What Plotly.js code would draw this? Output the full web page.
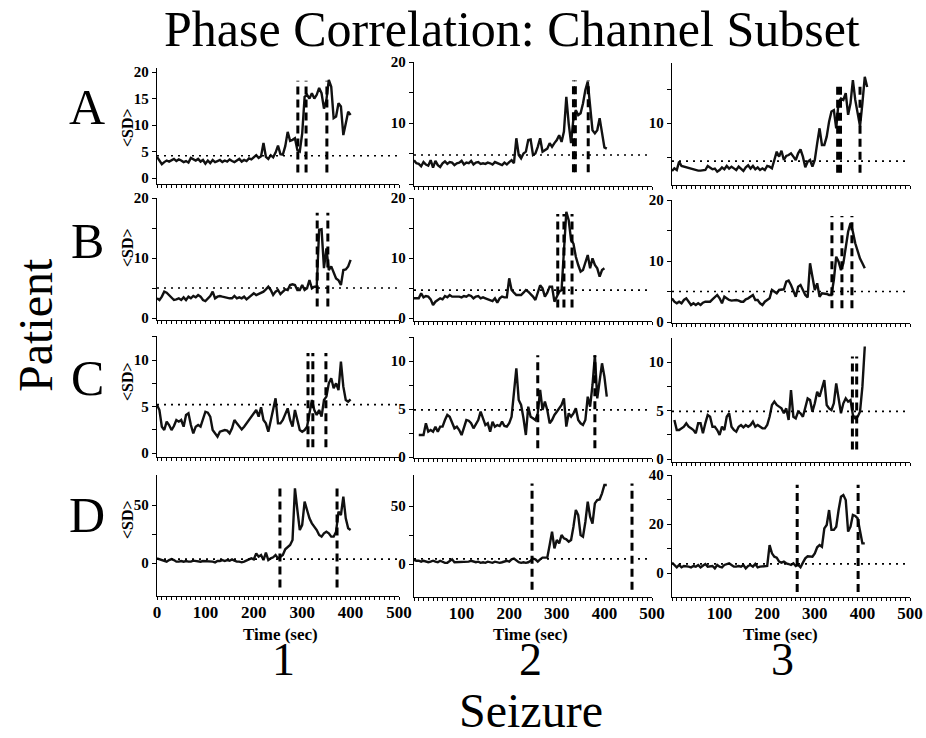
<!DOCTYPE html>
<html><head><meta charset="utf-8">
<script src="https://cdn.plot.ly/plotly-3.0.1.min.js"></script>
<style>html,body{margin:0;padding:0;background:#fff}#chart{width:926px;height:738px}</style>
</head><body><div id="chart"></div>
<script>
// ---------------- DATA ----------------
const TIME = [0,5,10,15,20,25,30,35,40,45,50,55,60,65,70,75,80,85,90,95,100,105,110,115,120,125,130,135,140,145,150,155,160,165,170,175,180,185,190,195,200,205,210,215,220,225,230,235,240,245,250,255,260,265,270,275,280,285,290,295,300,305,310,315,320,325,330,335,340,345,350,355,360,365,370,375,380,385,390,395,400,405,410];
const patients = ['A','B','C','D'];
const seizures = ['1','2','3'];
const xTickVals = [0,100,200,300,400,500];

const A1 = [4.0,3.2,2.6,3.0,3.3,3.1,3.4,3.6,3.2,3.5, 3.3,3.0,3.2,2.9,3.8,3.5,3.3,3.6,3.1,3.4, 2.7,3.3,2.8,3.4,3.0,3.2,3.4,3.0,3.3,3.1, 3.5,3.2,3.0,3.3,3.6,3.1,3.4,3.2,3.7,3.5, 4.0,4.3,3.8,4.1,6.6,4.0,3.6,4.3,3.9,4.8, 6.1,4.5,4.4,6.0,8.7,7.0,7.2,7.5,5.3,5.0, 8.4,15.3,15.7,15.0,16.0,15.0,15.7,17.0,16.0,13.1, 14.7,18.5,17.2,11.3,11.6,14.1,13.5,8.1,10.3,12.5, 11.9];
const A2 = [3.9,3.4,3.3,2.9,3.6,3.2,3.0,3.9,2.7,3.8, 3.1,2.8,3.4,3.7,3.3,3.6,3.5,3.1,3.4,3.5, 3.8,3.2,3.5,3.4,3.8,3.2,3.5,3.6,3.3,3.4, 3.3,3.5,3.4,3.2,3.6,3.4,3.3,3.1,3.5,3.2, 3.6, 3.9,3.4,7.5,4.75,4.2,5.0,5.3,7.2,7.3,4.75, 5.0,6.1,7.5,5.3,5.5,5.8,6.7,6.1,6.7,7.2, 8.0,6.9,8.6,14.3,9.9,6.7,10.8,12.1,11.3,11.6, 13.2,15.4,16.8,13.2,8.8,8.3,8.8,10.8,8.6,6.0, 5.8];
const A3 = [2.94,3.33,3.09,4.31,3.68,3.58,3.48,3.33,3.33,3.24, 3.09,2.99,2.99,2.99,3.09,3.68,3.48,3.19,3.29,2.84, 3.09,3.48,3.19,3.68,3.29,3.58,3.33,3.09,3.58,3.19, 2.94,3.48,3.77,3.29,3.68,3.19,3.48,3.09,3.33,3.09, 3.68,3.58,3.33,4.56,5.78,5.05,5.93,4.56,5.15,5.29, 5.54,5.05,4.56,5.54,6.13,5.05,3.48,4.31,4.56,3.58, 4.56,7.0,9.22,6.76,6.76,7.99,10.2,11.7,11.9,9.22, 13.1,13.6,13.4,14.4,11.2,12.9,16.3,13.4,11.4,9.5, 12.9,16.8,15.3];
const B1 = [3.28,3.0,3.56,4.39,4.22,3.83,3.44,3.0,3.11,3.28, 3.0,3.44,3.0,3.56,3.28,3.67,3.44,3.83,3.56,3.0, 2.83,3.28,3.67,4.39,3.28,3.56,3.67,3.56,3.44,3.44, 3.28,3.28,3.67,3.28,3.44,3.28,3.56,3.11,3.44,3.67, 4.11,3.83,4.0,4.11,4.39,4.78,5.22,4.67,3.83,4.39, 4.67,4.0,4.39,4.78,4.67,5.5,5.61,5.5,4.67,4.67, 5.5,4.67,4.94,6.33,4.94,5.22,5.22,14.7,14.8,8.3, 11.6,8.0,8.6,7.7,6.6,6.3,5.5,8.0,8.1,8.6, 9.7];
const B2 = [3.28,3.28,3.28,4.11,3.44,3.67,3.56,3.11,2.17,2.72, 3.0,3.28,3.11,3.67,3.44,3.83,3.56,3.56,3.67,3.56, 3.44,3.67,3.56,3.83,3.67,3.28,3.56,3.67,3.28,3.44, 3.28,3.11,3.0,2.83,3.28,2.56,3.28,3.56,3.44,3.44, 6.61,4.67,4.22,3.83,3.83,3.83,4.22,4.67,4.39,4.0, 3.56,3.0,4.39,5.44,4.94,3.56,4.22,5.22,5.22,2.72, 3.56,4.39,4.67,11.3,17.7,16.3,13.0,12.4,10.2,8.83, 7.72,8.0,9.11,10.5,8.28,9.94,8.83,8.28,6.89,8.0, 8.28];
const B3 = [3.88,3.33,3.06,3.33,3.06,3.61,3.88,3.33,2.79,3.06, 2.79,3.06,2.79,3.17,3.33,3.33,3.33,3.72,4.05,4.43, 3.88,3.06,4.15,3.88,3.61,3.5,3.61,3.61,3.5,3.33, 3.33,3.72,3.88,4.15,4.43,3.61,3.61,3.06,2.79,3.33, 3.61,3.88,5.25,4.97,4.7,5.25,5.36,5.36,6.61,6.78, 6.07,4.97,4.15,5.8,6.07,5.25,4.43,4.05,9.62,7.43, 5.25,6.34,4.15,4.7,4.7,4.59,4.43,4.43,6.89,10.7, 9.9,8.5,9.62,12.1,14.8,16.2,14.8,12.9,11.5,10.4, 9.62,8.8];
const C1 = [5.16,4.62,2.83,2.47,3.37,3.01,2.47,2.90,3.55,3.37, 3.55,2.83,4.09,4.27,3.01,2.11,2.83,3.01,2.83,3.55, 4.44,4.34,3.91,2.47,2.11,1.76,2.29,2.4,2.47,2.4, 2.11,2.65,3.55,3.19,2.83,2.54,2.83,3.19,3.55,3.91, 4.27,4.62,3.91,4.91,3.55,3.19,2.29,3.55,4.8,5.88, 3.19,3.19,3.55,4.27,4.8,3.55,2.83,4.62,3.55,2.47, 2.29,2.47,2.83,4.27,5.7,4.62,4.09,4.62,3.91,5.7, 6.06,7.49,8.03,6.96,7.49,6.77,9.82,7.13,5.7,5.52, 5.77];
const C2 = [2.29,2.29,2.29,3.51,2.64,2.81,2.64,3.16,2.64,3.16, 3.16,3.85,4.38,4.20,3.51,2.99,3.16,2.81,2.29,3.16, 3.85,3.78,3.51,2.99,3.51,3.85,4.72,4.03,3.33,3.51, 2.64,3.68,3.16,3.33,3.23,3.68,3.23,3.16,3.51,4.20, 6.63,9.24,5.94,5.42,4.03,2.29,5.24,4.20,4.03,3.85, 4.55,6.98,4.9,5.76,4.9,3.51,3.85,4.38,4.72,5.07, 5.42,6.11,3.16,4.55,4.20,4.55,5.07,3.85,3.51,3.33, 3.85,6.28,5.24,7.5,10.6,6.11,8.2,9.76,8.37,6.28];
const C3 = [4.02,2.99,2.99,3.16,3.33,3.68,3.33,3.16,2.99,2.65, 3.68,3.68,2.65,3.68,4.54,4.36,3.33,3.33,2.99,2.47, 3.33,2.99,4.36,4.71,3.33,2.99,2.82,3.33,3.5,3.26, 3.5,3.33,3.5,3.85,3.33,3.5,3.33,3.16,3.16,3.5, 4.36,5.57,5.91,5.57,5.4,5.22,4.71,5.22,4.02,7.11, 4.36,4.19,4.88,4.71,4.36,5.22,6.25,6.08,4.88,5.74, 6.94,6.42,7.28,8.14,5.57,5.22,5.05,5.74,7.8,6.08, 4.71,5.74,6.25,5.91,6.08,4.54,4.19,4.36,4.88,7.46, 11.6];
const D1 = [4.0,3.4,2.5,2.0,1.15,2.5,3.4,2.5,1.15,1.15, 1.72,1.15,1.72,1.15,1.15,2.0,1.72,1.72,1.15,1.72, 1.72,1.15,1.72,1.15,0.57,1.72,1.72,2.5,1.72,2.5, 2.0,3.16,2.0,1.15,1.15,0.57,1.15,2.5,3.16,4.0, 3.16,8.33,5.46,6.9,2.5,8.9,2.5,4.0,4.89,6.9, 4.0,5.46,6.9,11.8,13.5,15.5,19.8,64.4,45.7,28.4, 32.8,52.9,45.7,38.5,34.2,31.3,28.4,24.1,22.7,25.6, 27.0,25.6,22.7,22.7,27.0,44.3,41.4,57.2,38.5,29.9, 28.4];
const D2 = [3.5,2.8,2.8,2.0,2.8,2.0,1.5,2.0,2.8,2.0, 1.5,2.8,2.0,1.0,1.0,2.8,4.0,1.5,1.5,2.0, 1.5,2.0,1.5,2.0,2.8,2.0,1.5,2.0,1.0,1.5, 1.0,2.0,1.5,1.0,2.0,1.5,1.0,1.5,2.0,2.8, 2.0,4.0,4.6,2.8,1.5,1.0,1.5,1.0,1.5,2.8, 4.6,4.0,2.0,4.0,5.5,5.5,5.5,16.4,27.9,13.5, 20.7,17.8,25.0,22.1,21.3,19.3,20.7,32.2,46.6,42.2, 25.0,23.6,36.2,53.7,40.8,34.8,52.3,55.2,55.7,60.9, 68.1,68.1];
const D3 = [4.22,3.27,2.31,3.27,2.31,2.86,2.86,2.59,2.31,2.86, 2.59,3.27,2.31,2.86,3.67,2.59,2.86,2.86,1.90,3.27, 2.59,2.31,3.27,3.67,3.95,3.27,2.59,2.59,2.86,2.59, 3.27,1.90,2.86,3.27,2.59,3.67,2.31,2.59,2.59,2.59, 2.86,11.4,8.03,6.67,6.26,4.63,4.22,4.63,3.95,3.67, 3.27,3.95,2.86,3.27,2.31,4.22,5.99,6.8,6.8,6.67, 8.03,10.5,11.4,10.7,18.2,19.6,25.7,17.6,17.6,18.9, 25.7,31.1,31.8,29.8,16.9,18.9,23.7,23.3,22.3,16.9, 12.1,12.1];

const series = [[A1,A2,A3],[B1,B2,B3],[C1,C2,C3],[D1,D2,D3]];
const seriesStart = [[0,0,0],[0,0,0],[0,10,5],[0,0,0]];
const threshold = [[4.2,4.75,4.4],[5.0,4.65,5.0],[5.2,4.9,4.9],[3.4,4.5,3.7]];
const markerTimes = [
  [[291,308,351],[335,339,366],[348,354,395]],
  [[331,353],[302,315,332],[336,357,378]],
  [[312,322,349],[260,380],[379,388]],
  [[254,372],[248,458],[263,391]]
];
const yTickVals = [
  [[0,5,10,15,20],[0,5,10,15,20],[5,10,15]],
  [[0,5,10,15,20],[0,5,10,15,20],[0,5,10,15,20]],
  [[0,2.5,5,7.5,10,12.5],[0,2.5,5,7.5,10,12.5],[0,2.5,5,7.5,10,12.5]],
  [[0,25,50],[0,25,50],[0,10,20,30,40]]
];
const yTickText = [
  [['0','5','10','15','20'],['','','10','','20'],['','10','']],
  [['0','','10','','20'],['0','','10','','20'],['0','','10','','20']],
  [['0','','5','','10',''],['0','','5','','10',''],['0','','5','','10','']],
  [['0','','50'],['0','','50'],['0','','20','','40']]
];

// ---------------- GEOMETRY / STYLE ----------------
const W = 926, H = 738;
const colPx = [[157,399],[414,652],[672,910]];
// [top, bottom, zeroPx, pxPerUnit]
const geom = [
  [[68,184,178,5.3],[62,186,184,6.1],[63,185,191,6.8]],
  [[198,320,318,6.0],[198,321,318,6.0],[200,323,322,6.1]],
  [[336,457,453,9.3],[337,458,457,9.6],[338,462,459,9.7]],
  [[475,596,563,1.16],[475,597,564,1.16],[475,597,573,2.45]]
];
const markSpan = [
  [[0.10,0.89],[0.11,0.85],[0.10,0.84]],
  [[0.11,0.88],[0.11,0.87],[0.12,0.87]],
  [[0.08,0.86],[0.08,0.85],[0.10,0.85]],
  [[0.07,0.93],[0.06,0.93],[0.04,0.92]]
];
const SERIF = 'Liberation Serif, Times New Roman, serif';

const traces = [], shapes = [], annotations = [];
const layout = {
  width: W, height: H, margin: {l:0, r:0, t:0, b:0},
  paper_bgcolor: '#fff', plot_bgcolor: '#fff', showlegend: false,
  font: {family: SERIF, color: '#000'}
};

for (let r = 0; r < 4; r++) {
  for (let c = 0; c < 3; c++) {
    const n = r*3 + c + 1;
    const xn = n === 1 ? 'x' : 'x' + n;
    const yn = n === 1 ? 'y' : 'y' + n;
    const [top, bot, zero, ppu] = geom[r][c];
    const vals = series[r][c];
    const s = TIME.indexOf(seriesStart[r][c]);
    traces.push({
      type: 'scatter', mode: 'lines',
      x: TIME.slice(s, s + vals.length), y: vals,
      xaxis: xn, yaxis: yn,
      line: {color: '#111', width: 2.4},
      hoverinfo: 'skip'
    });
    const xt = c === 0 ? xTickVals : xTickVals.slice(1);
    layout['xaxis' + (n === 1 ? '' : n)] = {
      domain: [colPx[c][0]/W, colPx[c][1]/W], range: [0, 500], anchor: yn,
      showline: true, linecolor: '#000', linewidth: 1.3, showgrid: false, zeroline: false,
      ticks: 'outside', ticklen: 3, tickwidth: 1, tickcolor: '#000',
      tickmode: 'array', tickvals: xt, ticktext: xt.map(String),
      showticklabels: r === 3, ticklabelstandoff: -3,
      tickfont: {family: SERIF, size: 17, color: '#000', weight: 700},
      minor: {tickmode: 'linear', tick0: 0, dtick: 10, ticks: 'outside', ticklen: 2.5, tickcolor: '#000', tickwidth: 1, showgrid: false}
    };
    layout['yaxis' + (n === 1 ? '' : n)] = {
      domain: [1 - bot/H, 1 - top/H],
      range: [(zero - bot)/ppu, (zero - top)/ppu], anchor: xn,
      showline: true, linecolor: '#000', linewidth: 1.3, showgrid: false, zeroline: false,
      ticks: 'outside', ticklen: 4, tickwidth: 1, tickcolor: '#000',
      tickmode: 'array', tickvals: yTickVals[r][c], ticktext: yTickText[r][c],
      tickfont: {family: SERIF, size: 15, color: '#000', weight: 700}
    };
    shapes.push({
      type: 'line', xref: xn + ' domain', x0: 0, x1: 1, yref: yn,
      y0: threshold[r][c], y1: threshold[r][c],
      line: {color: '#000', width: 1.7, dash: '2px,5px'}
    });
    markerTimes[r][c].forEach(t => shapes.push({
      type: 'line', xref: xn, x0: t, x1: t, yref: yn + ' domain',
      y0: markSpan[r][c][0], y1: markSpan[r][c][1],
      line: {color: '#000', width: 3, dash: '8px,5px'}
    }));
  }
}

function ann(text, px, py, size, opts) {
  annotations.push(Object.assign({
    text: text, xref: 'paper', yref: 'paper', x: px/W, y: 1 - py/H,
    xanchor: 'center', yanchor: 'middle', showarrow: false,
    font: {family: SERIF, size: size, color: '#000'}
  }, opts || {}));
}
ann('Phase Correlation: Channel Subset', 512, 29, 50);
const letterY = [107, 241, 378, 515];
const sdY = [128, 248, 382, 520];
patients.forEach((p, i) => {
  ann(p, 87, letterY[i], 50);
  ann('<b>&lt;SD&gt;</b>', 127, sdY[i], 16, {textangle: -90});
});
ann('Patient', 35, 325, 48, {textangle: -90});
const colCenters = [280, 530, 780];
const numX = [283, 530, 782];
seizures.forEach((s, i) => {
  ann('<b>Time (sec)</b>', colCenters[i], 634, 17);
  ann(s, numX[i], 659, 46);
});
ann('Seizure', 531, 710, 48);

layout.shapes = shapes;
layout.annotations = annotations;
Plotly.newPlot('chart', traces, layout, {displayModeBar: false, staticPlot: true});
</script>
</body></html>
